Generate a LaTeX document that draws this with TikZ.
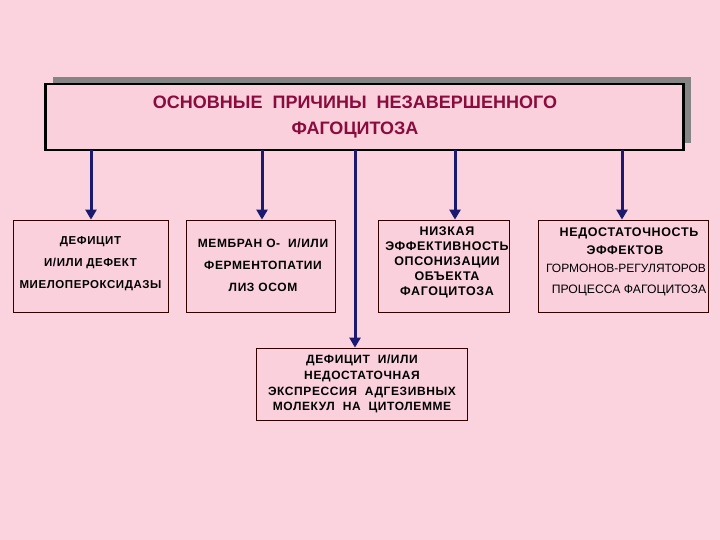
\documentclass[tikz,border=0pt]{standalone}
\usepackage{fontspec}
\setmainfont{Liberation Sans}
\newfontfamily\spacedfont[LetterSpace=5]{Liberation Sans}
\usetikzlibrary{arrows.meta,shadows}
\definecolor{bgpink}{HTML}{FAD3DF}
\definecolor{boxpink}{HTML}{FAD0DD}
\definecolor{titlered}{HTML}{8A0B3C}
\definecolor{arrowblue}{HTML}{1C1A6E}
\definecolor{shadowgray}{HTML}{858585}
\tikzset{
  mainbox/.style={draw=black, line width=2.6pt, fill=boxpink, minimum width=638pt, minimum height=66pt, inner sep=0pt,
    drop shadow={shadow xshift=7pt, shadow yshift=7pt, fill=shadowgray, opacity=1}},
  causebox/.style={draw=black!80!red, line width=0.8pt, fill=boxpink, inner sep=0pt},
  txt/.style={font=\spacedfont\bfseries\fontsize{11.5}{22}\selectfont, align=center, inner sep=0pt},
  arr/.style={draw=arrowblue, line width=3pt, -{Triangle[length=10pt,width=11pt]}},
}
\begin{document}
\begin{tikzpicture}[x=1pt,y=-1pt]
\fill[bgpink] (0,0) rectangle (720,540);
\useasboundingbox (0,0) rectangle (720,540);

\node[mainbox] (main) at (364.5,117) {};
\node[font=\bfseries\fontsize{18}{26}\selectfont, text=titlered, align=center] (title) at (355,117)
  {ОСНОВНЫЕ \ ПРИЧИНЫ \ НЕЗАВЕРШЕННОГО\\ФАГОЦИТОЗА};

\node[causebox, minimum width=155pt, minimum height=92pt] (b1) at (90.5,266) {};
\node[txt] (t1) at (90.5,264) {ДЕФИЦИТ\\И/ИЛИ ДЕФЕКТ\\МИЕЛОПЕРОКСИДАЗЫ};

\node[causebox, minimum width=149pt, minimum height=92pt] (b2) at (260.5,266) {};
\node[txt, font=\spacedfont\bfseries\fontsize{12}{22}\selectfont] (t2) at (263,265) {МЕМБРАН О- \ И/ИЛИ\\ФЕРМЕНТОПАТИИ\\ЛИЗ ОСОМ};

\node[causebox, minimum width=131pt, minimum height=92pt] (b3) at (443.5,266) {};
\node[txt, font=\spacedfont\bfseries\fontsize{12.5}{15}\selectfont] (t3) at (447,262) {НИЗКАЯ\\ЭФФЕКТИВНОСТЬ\\ОПСОНИЗАЦИИ\\ОБЪЕКТА\\ФАГОЦИТОЗА};

\node[causebox, minimum width=170pt, minimum height=92pt] (b4) at (623,266) {};
\node[txt, font=\spacedfont\bfseries\fontsize{12.5}{15}\selectfont] (t4a) at (629,233) {НЕДОСТАТОЧНОСТЬ};
\node[txt, font=\spacedfont\bfseries\fontsize{12.5}{15}\selectfont] (t4b) at (625,250) {ЭФФЕКТОВ};
\node[txt, font=\fontsize{12}{14}\selectfont] (t4c) at (626,268) {ГОРМОНОВ-РЕГУЛЯТОРОВ};
\node[txt, font=\fontsize{12.2}{14}\selectfont] (t4d) at (629,290) {ПРОЦЕССА ФАГОЦИТОЗА};

\node[causebox, minimum width=211pt, minimum height=72pt] (b5) at (361.5,384) {};
\node[txt, font=\spacedfont\bfseries\fontsize{12}{15.7}\selectfont] (t5) at (362,384) {ДЕФИЦИТ \ И/ИЛИ\\НЕДОСТАТОЧНАЯ\\ЭКСПРЕССИЯ \ АДГЕЗИВНЫХ\\МОЛЕКУЛ \ НА \ ЦИТОЛЕММЕ};

\coordinate (s1) at (91,150);
\coordinate (s2) at (262,150);
\coordinate (s3) at (355,150);
\coordinate (s4) at (455,150);
\coordinate (s5) at (622,150);
\draw[arr] (s1) -- (s1 |- b1.north);
\draw[arr] (s2) -- (s2 |- b2.north);
\draw[arr] (s3) -- (s3 |- b5.north);
\draw[arr] (s4) -- (s4 |- b3.north);
\draw[arr] (s5) -- (s5 |- b4.north);
\end{tikzpicture}
\end{document}
